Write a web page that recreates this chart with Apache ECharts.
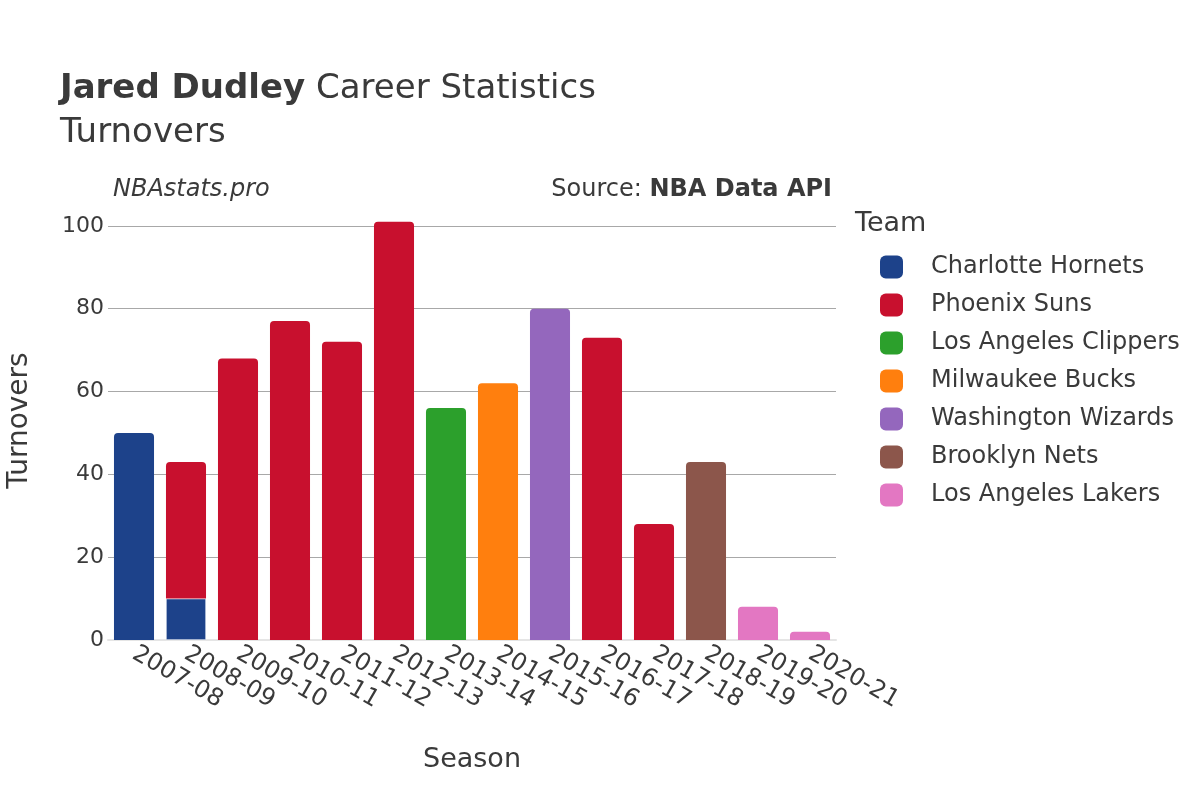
<!DOCTYPE html>
<html>
<head>
<meta charset="utf-8">
<script src="https://cdn.jsdelivr.net/npm/echarts@6/dist/echarts.min.js"></script>
<style>
  html, body { margin: 0; padding: 0; background: #fff; }
  #chart { width: 1200px; height: 800px; }
</style>
</head>
<body>
<div id="chart"></div>
<script>
// seasons on the x axis
const seasons = ['2007-08', '2008-09', '2009-10', '2010-11', '2011-12', '2012-13', '2013-14',
  '2014-15', '2015-16', '2016-17', '2017-18', '2018-19', '2019-20', '2020-21']
const yTicks = [0, 20, 40, 60, 80, 100]

// turnovers per team and season
const hornets  = [50, 10, null, null, null, null, null, null, null, null, null, null, null, null]
const suns     = [null, 33, 68, 77, 72, 101, null, null, null, 73, 28, null, null, null]
const clippers = [null, null, null, null, null, null, 56, null, null, null, null, null, null, null]
const bucks    = [null, null, null, null, null, null, null, 62, null, null, null, null, null, null]
const wizards  = [null, null, null, null, null, null, null, null, 80, null, null, null, null, null]
const nets     = [null, null, null, null, null, null, null, null, null, null, null, 43, null, null]
const lakers   = [null, null, null, null, null, null, null, null, null, null, null, null, 8, 2]

const teams = [
  { name: 'Charlotte Hornets', color: '#1d428a', data: hornets },
  { name: 'Phoenix Suns', color: '#c8102e', data: suns },
  { name: 'Los Angeles Clippers', color: '#2ca02c', data: clippers },
  { name: 'Milwaukee Bucks', color: '#ff7f0e', data: bucks },
  { name: 'Washington Wizards', color: '#9467bd', data: wizards },
  { name: 'Brooklyn Nets', color: '#8c564b', data: nets },
  { name: 'Los Angeles Lakers', color: '#e377c2', data: lakers }
]

const FONT = 'DejaVu Sans'
const chart = echarts.init(document.getElementById('chart'))

// a bar that has another team stacked above it gets square corners
const topIndex = seasons.map((s, i) => {
  let top = -1
  teams.forEach((t, k) => { if (t.data[i] != null) top = k })
  return top
})

const series = teams.map((t, k) => ({
  name: t.name,
  type: 'bar',
  stack: 'total',
  barCategoryGap: '23%',
  itemStyle: { color: t.color },
  emphasis: { disabled: true },
  data: t.data.map((v, i) => ({
    value: v,
    itemStyle: {
      borderRadius: topIndex[i] === k ? [4, 4, 0, 0] : 0,
      borderColor: '#fff',
      borderWidth: topIndex[i] === k ? 0 : 0.6
    }
  }))
}))

chart.setOption({
  animation: false,
  textStyle: { fontFamily: FONT },
  // the plot runs up to ~106 like the original
  grid: { left: 108, right: 364, top: 201, bottom: 160, outerBoundsMode: 'none' },
  title: [
    {
      text: '{b|Jared Dudley} Career Statistics\nTurnovers',
      left: 55, top: 62,
      textStyle: {
        fontFamily: FONT, fontSize: 34, fontWeight: 'normal', color: '#3a3a3a', lineHeight: 44,
        rich: { b: { fontFamily: FONT, fontSize: 34, fontWeight: 'bold', color: '#3a3a3a' } }
      }
    }
  ],
  graphic: [
    {
      type: 'text', left: 113, top: 178,
      style: { text: 'NBAstats.pro', font: 'italic 24px "DejaVu Sans"', fill: '#3a3a3a' }
    },
    {
      type: 'text', right: 368, top: 178,
      style: {
        text: 'Source: {b|NBA Data API}', font: '24px "DejaVu Sans"', fill: '#3a3a3a',
        rich: { b: { font: 'bold 24px "DejaVu Sans"', fill: '#3a3a3a' } }
      }
    },
    {
      type: 'text', left: 855, top: 210,
      style: { text: 'Team', font: '27px "DejaVu Sans"', fill: '#3a3a3a' }
    }
  ],
  legend: {
    orient: 'vertical',
    left: 875, top: 250,
    icon: 'roundRect',
    itemWidth: 23, itemHeight: 23,
    itemGap: 14,
    selectedMode: false,
    textStyle: { fontFamily: FONT, fontSize: 24, color: '#3a3a3a', padding: [0, 0, 0, 23] },
    data: teams.map(t => t.name)
  },
  xAxis: {
    type: 'category',
    data: seasons,
    name: 'Season',
    nameLocation: 'middle',
    nameGap: 106,
    nameTextStyle: { fontFamily: FONT, fontSize: 27, color: '#3a3a3a' },
    axisLine: { lineStyle: { color: '#e5e5e5', width: 2 } },
    axisTick: { show: false },
    axisLabel: { rotate: -30, fontSize: 24, color: '#3a3a3a', margin: 12, interval: 0 }
  },
  yAxis: {
    type: 'value',
    min: yTicks[0],
    max: 106,
    interval: 20,
    name: 'Turnovers',
    nameLocation: 'middle',
    nameGap: 74,
    nameTextStyle: { fontFamily: FONT, fontSize: 28, color: '#3a3a3a' },
    axisLabel: { fontSize: 22, color: '#3a3a3a', margin: 4, showMaxLabel: false },
    splitLine: { showMaxLine: false, lineStyle: { color: '#a8a8a8', width: 1 } },
    axisLine: { show: false },
    axisTick: { show: false }
  },
  series: series
})
</script>
</body>
</html>
